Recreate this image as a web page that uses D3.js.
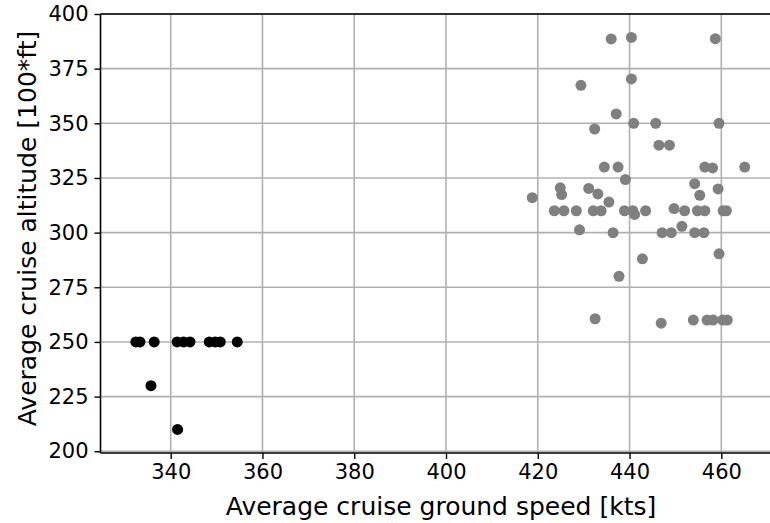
<!DOCTYPE html>
<html>
<head>
<meta charset="utf-8">
<script src="https://cdn.jsdelivr.net/npm/d3@7"></script>
<style>
  html, body { margin: 0; padding: 0; background: #fff; }
  svg { display: block; font-family: "DejaVu Sans", sans-serif; }
</style>
</head>
<body>
<svg id="chart" width="770" height="523"></svg>
<script>
// Flights of the slower group (kts, hundreds of ft)
const slowSpeed = [332.4, 333.3, 336.4, 341.4, 342.8, 344.2, 348.4, 349.7, 350.8, 354.5, 335.7, 341.5];
const slowAlt   = [250,   250,   250,   250,   250,   250,   250,   250,   250,   250,   230,   210];

// Flights of the faster group
const fastSpeed = [
  436.0, 440.4, 458.7, 429.4, 440.4, 437.1, 440.9, 445.7, 459.5, 432.4,
  446.4, 448.7, 434.5, 437.5, 456.4, 458.1, 465.1, 439.1, 454.2, 424.9,
  431.1, 459.3, 418.8, 425.2, 433.1, 455.3, 435.5, 449.7,
  423.6, 425.7, 428.4, 432.1, 433.8, 438.9, 440.7, 443.5, 452.0, 454.8, 456.4, 460.4, 461.1,
  441.1, 429.1, 451.4,
  436.4, 447.1, 449.1, 454.2, 456.2,
  459.5, 442.8, 437.7, 432.5, 446.9,
  453.9, 456.9, 458.2, 460.3, 461.3
];
const fastAlt = [
  388.6, 389.3, 388.7, 367.4, 370.3, 354.3, 350, 350, 350, 347.4,
  340, 340, 330, 330, 330, 329.6, 330, 324.3, 322.4, 320.5,
  320.2, 320, 316, 317.4, 317.7, 317.1, 314, 311,
  310, 310, 310, 310, 310, 310, 310, 310, 310, 310, 310, 310, 310,
  308.3, 301.3, 302.9,
  300, 300, 300, 300, 300,
  290.3, 288, 280, 260.6, 258.6,
  260, 260, 260, 260, 260
];

const xTicks = [340, 360, 380, 400, 420, 440, 460];
const yTicks = [200, 225, 250, 275, 300, 325, 350, 375, 400];
const xTitle = "Average cruise ground speed [kts]";
const yTitle = "Average cruise altitude [100*ft]";

const svg = d3.select("#chart");
const plotLeft = 100.5, plotTop = 14, plotBottom = 453, plotRight = 775;

const x = d3.scaleLinear().domain([324.7, 471.7]).range([plotLeft, plotRight]);
const y = d3.scaleLinear().domain([199.2, 400]).range([plotBottom, plotTop]);

// grid
const grid = svg.append("g").attr("stroke", "#b0b0b0").attr("stroke-width", 1.6);
grid.selectAll("line.gx").data(xTicks).join("line").attr("class", "gx")
  .attr("x1", d => x(d)).attr("x2", d => x(d))
  .attr("y1", plotTop).attr("y2", plotBottom);
grid.selectAll("line.gy").data(yTicks).join("line").attr("class", "gy")
  .attr("x1", plotLeft).attr("x2", plotRight)
  .attr("y1", d => y(d)).attr("y2", d => y(d));

// points
const slow = slowSpeed.map((s, i) => [s, slowAlt[i]]);
const fast = fastSpeed.map((s, i) => [s, fastAlt[i]]);

svg.append("g").selectAll("circle").data(slow).join("circle")
  .attr("cx", d => x(d[0])).attr("cy", d => y(d[1])).attr("r", 5.5)
  .attr("fill", "#000000");
svg.append("g").selectAll("circle").data(fast).join("circle")
  .attr("cx", d => x(d[0])).attr("cy", d => y(d[1])).attr("r", 5.5)
  .attr("fill", "#808080");

// axes
const xAxis = d3.axisBottom(x).tickValues(xTicks).tickSize(6).tickPadding(5).tickFormat(d3.format("d"));
const yAxis = d3.axisLeft(y).tickValues(yTicks).tickSize(6).tickPadding(6).tickFormat(d3.format("d"));

const gx = svg.append("g").attr("transform", `translate(0,${plotBottom})`).call(xAxis);
const gy = svg.append("g").attr("transform", `translate(${plotLeft},0)`).call(yAxis);
[gx, gy].forEach(g => {
  g.select(".domain").remove();
  g.selectAll(".tick line").attr("stroke", "#000").attr("stroke-width", 1.4);
  g.selectAll(".tick text").attr("fill", "#000")
    .style("font-family", "'DejaVu Sans', sans-serif").style("font-size", "21px");
});

// spines: left, top, bottom
const spines = svg.append("g").attr("stroke", "#000").attr("stroke-width", 1.6).attr("fill", "none");
spines.append("line").attr("x1", plotLeft).attr("x2", plotLeft).attr("y1", plotTop).attr("y2", plotBottom);
spines.append("line").attr("x1", plotLeft).attr("x2", plotRight).attr("y1", plotTop).attr("y2", plotTop);
spines.append("line").attr("x1", plotLeft).attr("x2", plotRight).attr("y1", plotBottom).attr("y2", plotBottom);

// titles
svg.append("text")
  .attr("x", 441).attr("y", 515)
  .attr("text-anchor", "middle")
  .style("font-size", "25px").attr("fill", "#000")
  .text(xTitle);
svg.append("text")
  .attr("transform", `translate(36,${(plotTop + plotBottom) / 2 - 5}) rotate(-90)`)
  .attr("text-anchor", "middle")
  .style("font-size", "25px").attr("fill", "#000")
  .text(yTitle);
</script>
</body>
</html>
